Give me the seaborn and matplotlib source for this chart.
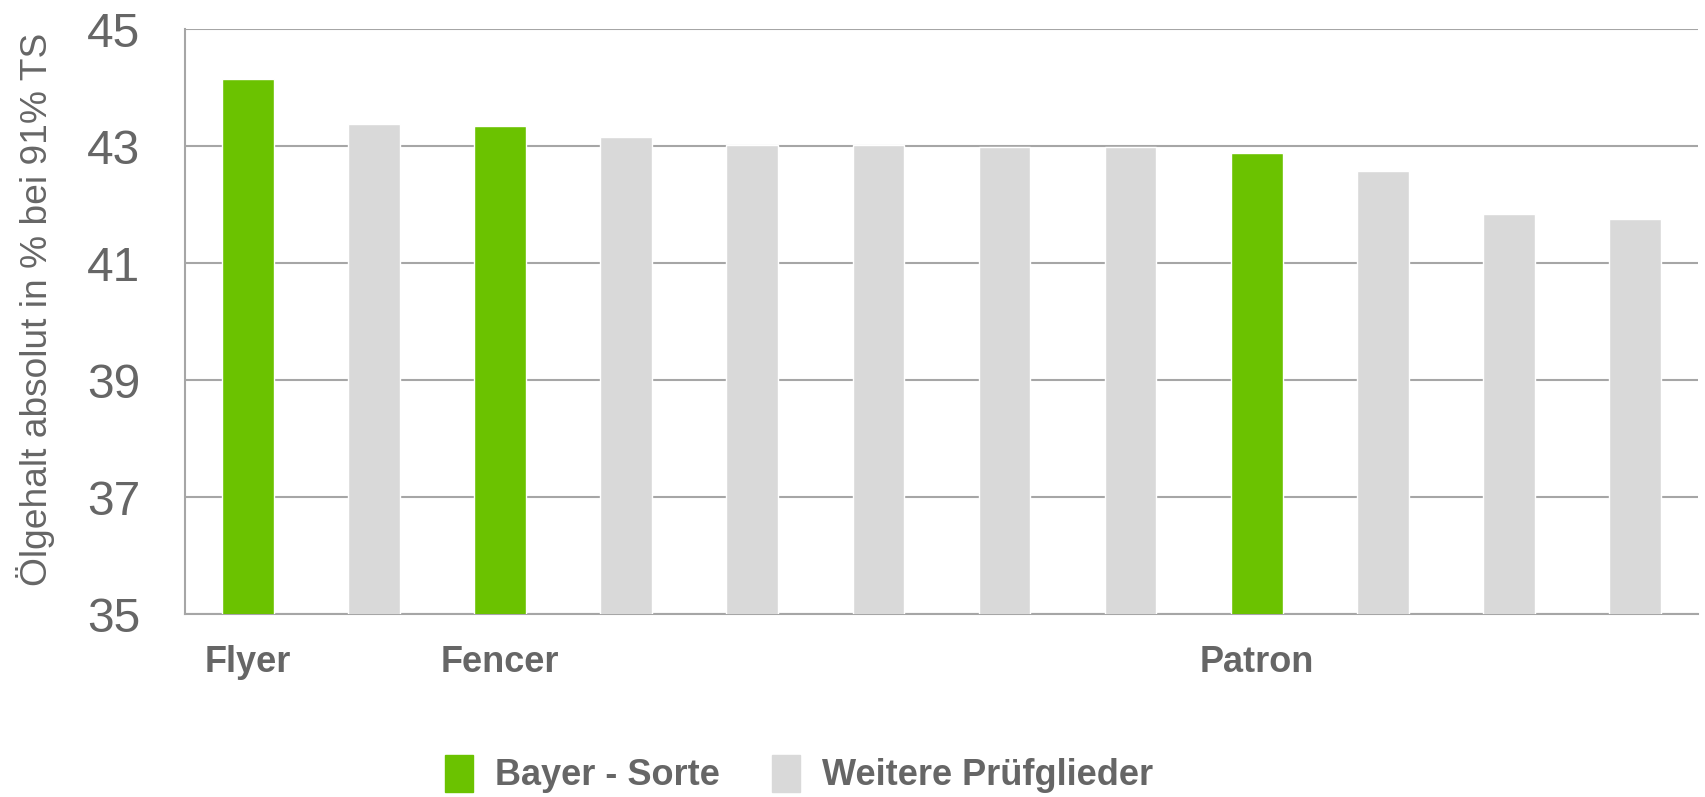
# Ölgehalt der Sorten im Vergleich

import pandas as pd
import seaborn as sns
import matplotlib.pyplot as plt
from matplotlib.patches import Patch

# Daten
sorten_id = [f"S{i}" for i in range(1, 13)]
sorten_label = ["Flyer", "", "Fencer", "", "", "", "", "", "Patron", "", "", ""]
oelgehalt = [44.14, 43.38, 43.34, 43.15, 43.01, 43.01, 42.98, 42.98, 42.88, 42.58, 41.84, 41.75]
gruppe = ["Bayer - Sorte", "Weitere Prüfglieder", "Bayer - Sorte", "Weitere Prüfglieder",
          "Weitere Prüfglieder", "Weitere Prüfglieder", "Weitere Prüfglieder", "Weitere Prüfglieder",
          "Bayer - Sorte", "Weitere Prüfglieder", "Weitere Prüfglieder", "Weitere Prüfglieder"]
y_ticks = [35, 37, 39, 41, 43, 45]

df = pd.DataFrame({'sorte': sorten_id, 'oel': oelgehalt, 'gruppe': gruppe})

sns.set_theme(style='white')
plt.rcParams['font.family'] = ['Liberation Sans', 'DejaVu Sans']

gruen = '#6BC200'
grau = '#D9D9D9'
linie = '#A6A6A6'
text_farbe = '#666666'
farben = {'Bayer - Sorte': gruen, 'Weitere Prüfglieder': grau}

fig = plt.figure(figsize=(17.06, 7.97), dpi=100)
ax = fig.add_axes([0.1084, 0.2296, 0.8869, 0.734])

sns.barplot(data=df, x='sorte', y='oel', hue='gruppe', palette=farben,
            saturation=1, dodge=False, width=0.41, legend=False, ax=ax, zorder=3)

ax.set_ylim(35, 45)
ax.set_xlim(-0.5, 11.5)
ax.set_yticks(y_ticks)
ax.set_yticklabels([str(t) for t in y_ticks], fontsize=34.5, color=text_farbe)
ax.set_xticks(range(len(sorten_label)))
ax.set_xticklabels(sorten_label, fontsize=26, fontweight='bold', color=text_farbe)
ax.tick_params(axis='y', length=0, pad=32)
ax.tick_params(axis='x', length=0, pad=22)

# Gitterlinien
ax.yaxis.grid(True, color=linie, linewidth=1.5, zorder=0)
ax.set_axisbelow(True)
for s in ['top', 'right']:
    ax.spines[s].set_visible(False)
for s in ['left', 'bottom']:
    ax.spines[s].set_color(linie)
    ax.spines[s].set_linewidth(1.5)

ax.set_xlabel('')
ax.set_ylabel('Ölgehalt absolut in % bei 91% TS', fontsize=26.7, color=text_farbe)
ax.yaxis.set_label_coords(-0.086, 0.52)

# Legende
handles = [Patch(color=gruen, label='Bayer - Sorte'),
           Patch(color=grau, label='Weitere Prüfglieder')]
fig.legend(handles=handles, loc='center left', bbox_to_anchor=(445 / 1706, 23 / 797),
           ncol=2, frameon=False, prop={'size': 26, 'weight': 'bold'},
           labelcolor=text_farbe, handlelength=0.78, handleheight=1.2,
           handletextpad=0.6, columnspacing=1.45, borderpad=0, borderaxespad=0)

plt.savefig('out.png', dpi=100)
